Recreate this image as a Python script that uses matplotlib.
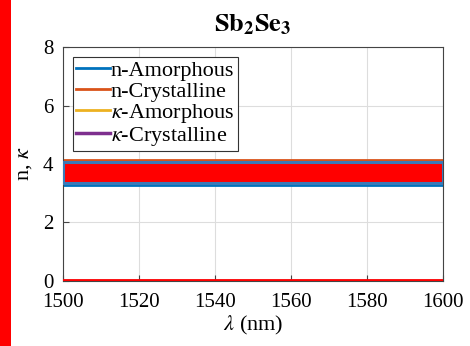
import matplotlib.pyplot as plt
from matplotlib.patches import Rectangle
import numpy as np

# wavelength (nm) and optical constants
wl = [1500, 1520, 1540, 1560, 1580, 1600]
n_amor = [3.28, 3.28, 3.28, 3.28, 3.28, 3.28]
n_cry = [4.14, 4.14, 4.14, 4.14, 4.14, 4.14]
k_amor = [0.0, 0.0, 0.0, 0.0, 0.0, 0.0]
k_cry = [0.0, 0.0, 0.0, 0.0, 0.0, 0.0]
labels = ["n-Amorphous", "n-Crystalline", r"$\kappa$-Amorphous", r"$\kappa$-Crystalline"]

plt.rcParams['font.family'] = ['Liberation Serif', 'DejaVu Serif']
plt.rcParams['mathtext.fontset'] = 'stix'

fig = plt.figure(figsize=(4.7, 3.46), dpi=100)
ax = fig.add_axes([0.134, 0.188, 0.809, 0.676])

ax.plot(wl, n_amor, color="#0072BD", lw=2, label=labels[0])
ax.plot(wl, n_cry, color="#D95319", lw=2, label=labels[1])
ax.plot(wl, k_amor, color="#EDB120", lw=2, label=labels[2])
ax.plot(wl, k_cry, color="#7E2F8E", lw=2.5, label=labels[3])

# red highlight marks drawn over the plot
ax.add_patch(Rectangle((wl[0], n_amor[0] + 0.07), wl[-1] - wl[0], n_cry[0] - n_amor[0] - 0.14,
                       facecolor="red", edgecolor="#3a7ab8", lw=2.2, zorder=5))
ax.plot(wl, np.array(k_cry) + 0.03, color="red", lw=2, zorder=6)

ax.set_xlim(1500, 1600)
ax.set_ylim(0, 8)
ax.set_xticks([1500, 1520, 1540, 1560, 1580, 1600])
ax.set_yticks([0, 2, 4, 6, 8])
ax.tick_params(labelsize=15, direction="in", length=4, color="#444444")
ax.tick_params(axis="x", pad=9)
ax.tick_params(axis="y", pad=7)
ax.grid(True, color="#dddddd", lw=0.8)
for s in ax.spines.values():
    s.set_color("#444444")

ax.set_xlabel(r"$\lambda$ (nm)", fontsize=16, labelpad=1)
ax.set_ylabel(r"n, $\kappa$", fontsize=16, labelpad=6)
ax.set_title(r"$\mathbf{Sb_2Se_3}$", fontsize=19, fontweight="bold", pad=11)

leg = ax.legend(loc="upper left", fontsize=16, handlelength=1.5, handletextpad=0.05,
                labelspacing=0.0, borderpad=0.15, fancybox=False, framealpha=1,
                edgecolor="#333333", borderaxespad=0.45)
leg.get_frame().set_linewidth(0.8)

# red strip on the left edge of the image
fig.patches.append(Rectangle((0, 0), 0.024, 1, transform=fig.transFigure,
                             facecolor="red", edgecolor="none"))

fig.savefig("out.png", dpi=100)
